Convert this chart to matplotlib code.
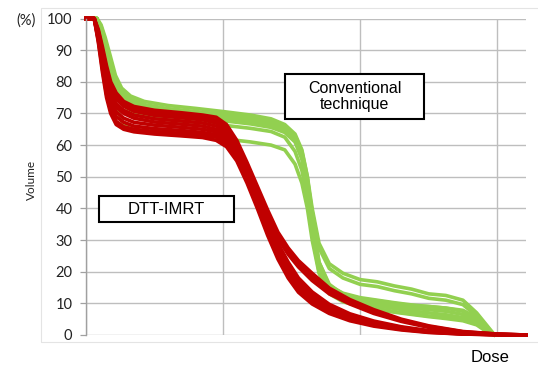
import matplotlib
matplotlib.use("Agg")
import matplotlib.pyplot as plt
from matplotlib.patches import Rectangle

# dose axis (arbitrary units, gridlines every 20)
red_dose = [0, 1.2, 1.8, 2.4, 3.0, 3.6, 4.4, 5.5, 7, 10, 14, 17, 19, 20.5, 22, 23.5,
            25, 26.5, 28, 29.5, 31, 33, 35.5, 38.5, 42, 46, 50, 55, 60, 64.2]
green_dose = [0, 1.6, 2.2, 2.8, 3.5, 4.3, 5.2, 6.5, 8.5, 12, 16, 20, 24, 27, 29, 30.5,
              31.5, 32.3, 33, 34, 35.5, 37.5, 40, 42.5, 45, 47.5, 50, 52.5, 55, 57, 58.5, 59.5]

# DTT-IMRT curves (volume %)
red_curves = [
    [100, 100, 92.5, 83, 75, 70, 66.5, 65, 64.2, 63.5, 62.9, 62.4, 61.5, 59.5, 55, 48, 40, 31.5, 24, 18, 13.5, 9.8, 6.8, 4.5, 2.8, 1.6, 0.8, 0.3, 0.1, 0],
    [100, 100, 93, 84, 76, 71, 67.5, 65.8, 65, 64.3, 63.7, 63.2, 62.5, 60.5, 56, 49, 41, 32.5, 25, 19, 14.3, 10.5, 7.3, 4.9, 3.1, 1.8, 0.9, 0.3, 0.1, 0],
    [100, 100, 93.5, 85, 77.5, 72.5, 69, 67.2, 66, 65.2, 64.6, 64, 63.3, 61.3, 57, 50, 42, 33.5, 26, 20, 15, 11.2, 7.8, 5.3, 3.4, 2, 1, 0.4, 0.1, 0],
    [100, 100, 94, 86, 78.5, 74, 70.5, 68.5, 67.2, 66.3, 65.6, 65, 64.2, 62.2, 57.8, 50.8, 43, 34.5, 27, 21, 16, 12, 8.4, 5.7, 3.7, 2.2, 1.1, 0.4, 0.1, 0],
    [100, 100, 94.5, 87, 80, 75.5, 72, 70, 68.5, 67.3, 66.6, 66, 65, 63, 58.5, 51.5, 43.8, 35.5, 28, 22, 17, 12.8, 9, 6.2, 4, 2.4, 1.2, 0.5, 0.1, 0],
    [100, 100, 95, 88, 81, 76.5, 73, 71, 69.5, 68.3, 67.6, 67, 66, 64, 59.3, 52.3, 44.6, 36.5, 29, 23, 18, 13.6, 9.7, 6.7, 4.4, 2.6, 1.4, 0.5, 0.15, 0],
    [100, 100, 95.5, 89, 82.5, 78, 74.5, 72.3, 70.7, 69.4, 68.6, 68, 67, 65, 60, 53, 45.5, 37.5, 30.5, 25.5, 21.5, 17.2, 13, 9.8, 6.8, 4.3, 2.4, 0.9, 0.25, 0],
    [100, 100, 96, 90, 84, 79, 75.5, 73, 71.4, 70.2, 69.4, 68.8, 67.8, 65.8, 60.8, 53.8, 46.3, 38.5, 31.5, 26.5, 22.5, 18.3, 13.8, 10.5, 7.4, 4.7, 2.7, 1, 0.3, 0],
    [100, 100, 96.5, 91, 85, 80, 76.5, 73.8, 72.2, 71, 70.2, 69.5, 68.8, 66.5, 61.5, 54.5, 47, 39.5, 32.5, 27.5, 23.5, 19.5, 14.8, 11.2, 8, 5, 2.9, 1.1, 0.3, 0],
]

# Conventional technique curves (volume %)
green_curves = [
    [100, 100, 98, 94, 88.5, 82, 78, 75.5, 73.8, 72.5, 71.6, 70.6, 69.5, 68.3, 66.5, 63.5, 58.5, 50, 37, 23, 15.5, 13, 11.5, 10.8, 10, 9.3, 9, 8.5, 7.8, 5.5, 2.5, 0.3],
    [100, 100, 97.5, 93, 87, 81, 77, 74.5, 72.8, 71.5, 70.6, 69.7, 68.7, 67.5, 65.8, 62.5, 57, 48, 35, 22, 15.5, 13.2, 11.8, 11, 10.2, 9.5, 9, 8.5, 7.5, 5, 2.2, 0.2],
    [100, 100, 97, 92, 85.5, 79.5, 75.5, 73.2, 71.6, 70.4, 69.6, 68.7, 67.7, 66.6, 65, 62, 56.5, 47.5, 35, 23, 16, 12.8, 11, 10, 9.2, 8.5, 8, 7.5, 6.5, 4.5, 1.8, 0.2],
    [100, 100, 96.5, 91, 84.5, 78.5, 74.5, 72.2, 70.6, 69.4, 68.6, 67.7, 66.7, 65.6, 64, 61, 55.5, 46, 34, 21, 14.5, 11.8, 10, 9.2, 8.4, 7.6, 7, 6.4, 5.5, 4, 1.5, 0.1],
    [100, 100, 96, 90, 83, 77, 73, 70.8, 69.2, 68, 67.2, 66.3, 65.3, 64.3, 62.5, 58, 52, 43, 32, 20, 13.5, 11, 9.2, 8.3, 7.4, 6.7, 6, 5.5, 4.8, 3.5, 1.2, 0.1],
    [100, 100, 95.5, 88, 80, 72.5, 67.5, 65.3, 64.2, 63.4, 62.8, 62, 61, 60, 58.5, 54, 48, 40, 30, 19.5, 13, 10.5, 9, 8, 7.2, 6.5, 5.8, 5.2, 4.5, 3.2, 1, 0],
    [100, 100, 97, 92.5, 86, 80, 76, 73.8, 72.2, 71, 70.2, 69.3, 68.3, 67.2, 65.7, 63, 58, 50, 40, 29, 22.5, 19.5, 17.5, 16.8, 15.5, 14.5, 13, 12.5, 11, 7, 3, 0.3],
    [100, 100, 96.5, 91.5, 85, 79, 75, 72.8, 71.2, 70, 69.2, 68.3, 67.3, 66.2, 64.8, 62, 57, 49, 39, 27.5, 21, 18, 16, 15.3, 14, 13, 11.6, 11, 9.6, 6, 2.5, 0.2],
]

y_ticks = list(range(0, 101, 10))
x_grid = [0, 20, 40, 60]

W, H = 538, 367
fig = plt.figure(figsize=(W / 100, H / 100), dpi=100)

# light outer frame
fig.add_artist(Rectangle((41 / W, 1 - 342 / H), 500 / W, 334 / H, transform=fig.transFigure,
                         fill=False, ec="#E4E4E4", lw=0.8))

ax = fig.add_axes([86 / W, 32 / H, 440 / W, 316.5 / H])
ax.set_xlim(0, 64.2)
ax.set_ylim(0, 100)

for v in green_curves:
    ax.plot(green_dose, v, color="#92D050", lw=2.6, solid_joinstyle="round", clip_on=False)
for v in red_curves:
    ax.plot(red_dose, v, color="#C00000", lw=2.6, solid_joinstyle="round", clip_on=False)

ax.set_yticks(y_ticks)
ax.set_xticks(x_grid)
ax.set_xticklabels([])
ax.tick_params(axis="x", length=0)
ax.tick_params(axis="y", length=4.3, width=0.9, color="#A0A0A0", pad=5.5,
               labelsize=10.5, labelcolor="#222222")
for lab in ax.get_yticklabels():
    lab.set_family("Lato")
ax.grid(True, color="#BEBEBE", lw=1)
ax.set_axisbelow(True)
for s in ["top", "right", "bottom"]:
    ax.spines[s].set_visible(False)
ax.spines["left"].set_color("#A0A0A0")
ax.spines["left"].set_linewidth(1)

fig.text(26 / W, 1 - 21 / H, "(%)", ha="center", va="center", fontsize=10.5, family="Lato", color="#222222")
fig.text(31 / W, 1 - 180 / H, "Volume", ha="center", va="center", rotation=90, fontsize=8.5,
         family="Lato", color="#222222")
fig.text(490 / W, 1 - 357 / H, "Dose", ha="center", va="center", fontsize=12,
         family="Liberation Sans", color="black")

# annotation boxes
def label_box(x0, y0, x1, y1, text, size):
    fig.add_artist(Rectangle((x0 / W, 1 - y1 / H), (x1 - x0) / W, (y1 - y0) / H,
                             transform=fig.transFigure, fc="white", ec="black", lw=1.5, zorder=5))
    fig.text((x0 + x1) / 2 / W, 1 - (y0 + y1) / 2 / H, text, ha="center", va="center",
             fontsize=size, family="Liberation Sans", linespacing=1.1, zorder=6)

label_box(285, 74, 424, 119, "Conventional\ntechnique", 11.5)
label_box(99, 196, 234, 222, "DTT-IMRT", 12)

fig.savefig("out.png", dpi=100)
